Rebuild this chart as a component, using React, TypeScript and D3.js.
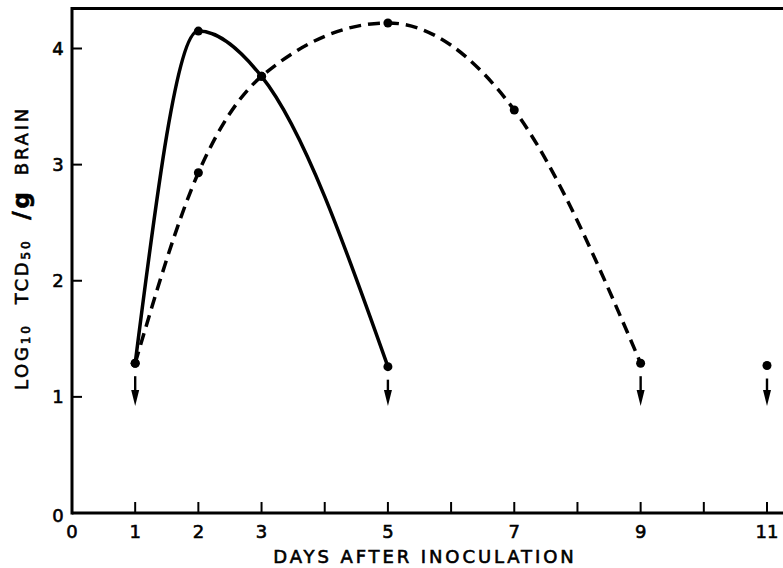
import * as d3 from 'd3'

// log10 TCD50 per g brain
const solidDays = [1, 2, 3, 5]
const solidLog = [1.29, 4.15, 3.76, 1.26]
const dashedDays = [1, 2, 3, 5, 7, 9]
const dashedLog = [1.29, 2.93, 3.76, 4.22, 3.47, 1.29]
const loneDays = [11]
const loneLog = [1.27]
// points at or below the detection limit get a down arrow
const belowDays = [1, 5, 9, 11]

const xTicks = [1, 2, 3, 4, 5, 6, 7, 8, 9, 10, 11]
const xLabels = [0, 1, 2, 3, 5, 7, 9, 11]
const yTicks = [0, 1, 2, 3, 4]

const W = 783
const H = 568
const FONT = '"DejaVu Sans", Verdana, sans-serif'

export default function App() {
  const x = d3.scaleLinear().domain([0, 11]).range([72, 767])
  const y = d3.scaleLinear().domain([0, 4]).range([513, 48.5])

  const solid = solidDays.map((d, i) => [d, solidLog[i]] as [number, number])
  const dashed = dashedDays.map((d, i) => [d, dashedLog[i]] as [number, number])
  const lone = loneDays.map((d, i) => [d, loneLog[i]] as [number, number])

  const line = d3
    .line<[number, number]>()
    .x((d) => x(d[0]))
    .y((d) => y(d[1]))
    .curve(d3.curveMonotoneX)

  const dots = [...solid, ...dashed, ...lone]

  const arrows = belowDays.map((day) => {
    const p = dots.find((d) => d[0] === day)!
    return { day, top: y(p[1]) + 13, tip: y(1) + 9 }
  })

  const top = 8.5
  const x0 = x(0)
  const yBase = y(0)

  return (
    <div style={{ position: 'absolute', left: 0, top: 0 }}>
      <svg width={W} height={H} style={{ display: 'block', background: '#fff' }}>
        {/* frame */}
        <line x1={x0} x2={W + 10} y1={top} y2={top} stroke="#000" strokeWidth={3} />
        <line x1={x0} x2={x0} y1={top - 1.5} y2={yBase + 1.5} stroke="#000" strokeWidth={3} />
        <line x1={x0} x2={W + 10} y1={yBase} y2={yBase} stroke="#000" strokeWidth={3} />

        {/* ticks */}
        {yTicks.map((t) => (
          <line key={'yt' + t} x1={x0} x2={x0 + 10} y1={y(t)} y2={y(t)} stroke="#000" strokeWidth={2} />
        ))}
        {xTicks.map((t) => (
          <line key={'xt' + t} x1={x(t)} x2={x(t)} y1={yBase} y2={yBase - 11} stroke="#000" strokeWidth={2} />
        ))}

        <g fontFamily={FONT} fill="#000" stroke="#000" strokeWidth={0.6}>
          <g fontSize={18}>
            {yTicks.map((t) => (
              <text key={'yl' + t} x={58} y={y(t) + (t === 0 ? 2 : 0)} textAnchor="middle" dominantBaseline="central">
                {t}
              </text>
            ))}
            {xLabels.map((t) => (
              <text key={'xl' + t} x={x(t)} y={531} textAnchor="middle" dominantBaseline="central">
                {t}
              </text>
            ))}
          </g>
          <text
            x={425}
            y={556}
            fontSize={18}
            textAnchor="middle"
            dominantBaseline="central"
            letterSpacing={2.9}
          >
            DAYS AFTER INOCULATION
          </text>
          <text
            transform={`translate(21, ${248}) rotate(-90)`}
            fontSize={18}
            textAnchor="middle"
            dominantBaseline="central"
            letterSpacing={2.8}
          >
            <tspan>LOG</tspan>
            <tspan fontSize={12} dy={5}>10</tspan>
            <tspan dy={-5} dx={19}>TCD</tspan>
            <tspan fontSize={12} dy={5}>50</tspan>
            <tspan dy={-5} dx={19} fontSize={23} fontWeight="bold">/g</tspan>
            <tspan dx={14}>BRAIN</tspan>
          </text>
        </g>

        {/* curves */}
        <path d={line(solid)!} fill="none" stroke="#000" strokeWidth={3.5} strokeLinecap="round" />
        <path d={line(dashed)!} fill="none" stroke="#000" strokeWidth={3.5} strokeDasharray="12 7" />

        {dots.map((d, i) => (
          <circle key={'d' + i} cx={x(d[0])} cy={y(d[1])} r={4.5} fill="#000" />
        ))}

        {arrows.map((a) => (
          <g key={'a' + a.day}>
            <line x1={x(a.day)} x2={x(a.day)} y1={a.top} y2={a.tip - 10} stroke="#000" strokeWidth={2.4} />
            <path
              d={`M${x(a.day) - 4},${a.tip - 16} L${x(a.day) + 4},${a.tip - 16} L${x(a.day)},${a.tip} Z`}
              fill="#000"
            />
          </g>
        ))}
      </svg>
    </div>
  )
}
